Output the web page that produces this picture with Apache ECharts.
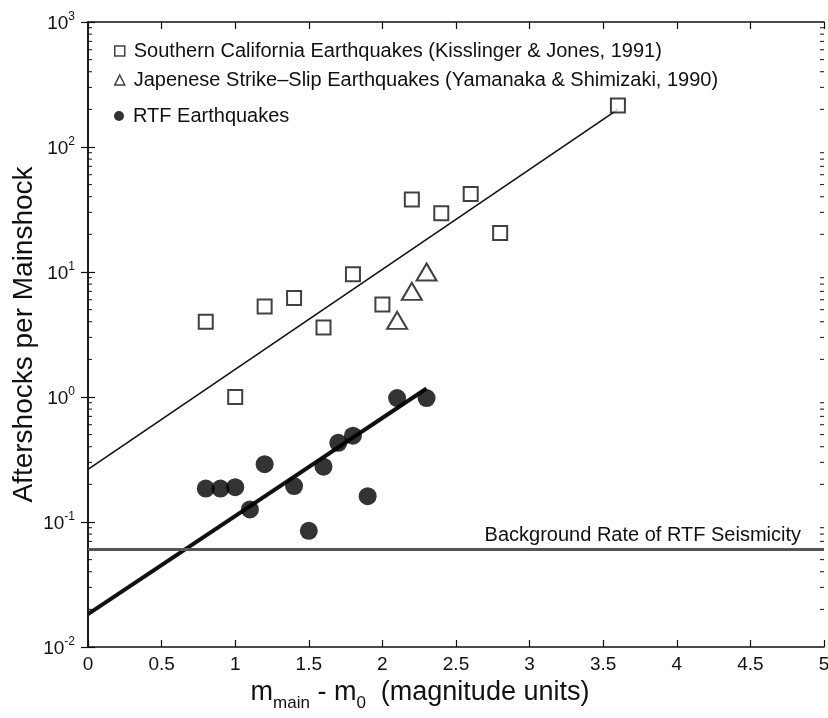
<!DOCTYPE html>
<html><head><meta charset="utf-8">
<script src="https://cdn.jsdelivr.net/npm/echarts@6/dist/echarts.min.js"></script>
<style>html,body{margin:0;padding:0;background:#fff}#c{width:828px;height:718px}</style>
</head><body><div id="c"></div>
<script>
// ---- data ----
const socalName = 'Southern California Earthquakes (Kisslinger & Jones, 1991)';
const japanName = 'Japenese Strike\u2013Slip Earthquakes (Yamanaka & Shimizaki, 1990)';
const rtfName = 'RTF Earthquakes';

const socalX = [0.8, 1.0, 1.2, 1.4, 1.6, 1.8, 2.0, 2.2, 2.4, 2.6, 2.8, 3.6];
const socalY = [4.0, 1.0, 5.3, 6.2, 3.6, 9.6, 5.5, 38, 29.5, 42, 20.5, 215];

const japanX = [2.1, 2.2, 2.3];
const japanY = [4.1, 7.0, 10];

const rtfX = [0.8, 0.9, 1.0, 1.1, 1.2, 1.4, 1.5, 1.6, 1.7, 1.8, 1.9, 2.1, 2.3];
const rtfY = [0.185, 0.185, 0.19, 0.126, 0.29, 0.194, 0.085, 0.277, 0.43, 0.49, 0.161, 0.98, 0.98];

const socalFitX = [0, 3.6];
const socalFitY = [0.264, 200];
const rtfFitX = [0, 2.3];
const rtfFitY = [0.0183, 1.17];

const backgroundRate = 0.063;
const backgroundLabel = 'Background Rate of RTF Seismicity';

const xTickLabels = ['0', '0.5', '1', '1.5', '2', '2.5', '3', '3.5', '4', '4.5', '5'];
const yDecades = [0.01, 0.1, 1, 10, 100];
const minorMultipliers = [2, 3, 4, 5, 6, 7, 8, 9];

// ---- chart ----
const FONT = 'Liberation Sans, Arial, Helvetica, sans-serif';
const INK = '#111';
const pairs = (xs, ys) => xs.map((x, i) => [x, ys[i]]);
const minorTicks = [];
yDecades.forEach(d => minorMultipliers.forEach(m => minorTicks.push([0, d * m])));

const chart = echarts.init(document.getElementById('c'), null, {renderer: 'canvas'});

const legendBase = {
  orient: 'horizontal', padding: 0, itemWidth: 10, itemHeight: 10, selectedMode: false,
  textStyle: {fontFamily: FONT, fontSize: 20, color: INK, padding: [0, 0, 0, 4]}
};

const option = {
  animation: false,
  backgroundColor: '#fff',
  textStyle: {fontFamily: FONT},
  grid: {left: 88, right: 4, top: 22, bottom: 71, containLabel: false, outerBoundsMode: 'none'},
  legend: [
    Object.assign({}, legendBase, {left: 114, top: 41, data: [socalName], icon: 'rect',
      itemStyle: {color: '#fff', borderColor: INK, borderWidth: 1.5}}),
    Object.assign({}, legendBase, {left: 114, top: 70, data: [japanName], icon: 'triangle',
      itemStyle: {color: '#fff', borderColor: INK, borderWidth: 1.5}}),
    Object.assign({}, legendBase, {left: 114, top: 106, data: [rtfName], icon: 'circle',
      itemStyle: {color: '#000', borderWidth: 0}})
  ],
  xAxis: [{
    type: 'value', min: 0, max: 5, interval: 0.5, position: 'bottom',
    axisLine: {show: true, lineStyle: {color: INK, width: 1.5}},
    axisTick: {show: true, inside: true, length: 7, lineStyle: {color: INK, width: 1.2}},
    splitLine: {show: false},
    axisLabel: {
      show: true, margin: 8, color: INK, fontSize: 19, fontFamily: FONT, hideOverlap: false,
      formatter: (v) => xTickLabels[Math.round(v * 2)]
    },
    name: '{m|m}{sub|main}{m| - m}{sub|0}{m|  (magnitude units)}',
    nameLocation: 'middle', nameGap: 30,
    nameTextStyle: {
      padding: [0, 72, 0, 0],
      rich: {
        m: {fontFamily: FONT, fontSize: 27, color: INK, lineHeight: 26, verticalAlign: 'top'},
        sub: {fontFamily: FONT, fontSize: 17, color: INK, lineHeight: 33, verticalAlign: 'bottom'}
      }
    }
  }, {
    type: 'value', min: 0, max: 5, interval: 0.5, position: 'top',
    axisLine: {show: true, lineStyle: {color: INK, width: 1.5}},
    axisTick: {show: true, inside: true, length: 7, lineStyle: {color: INK, width: 1.2}},
    axisLabel: {show: false}, splitLine: {show: false}
  }],
  yAxis: [{
    type: 'log', logBase: 10, min: 0.01, max: 1000, position: 'left',
    axisLine: {show: true, lineStyle: {color: INK, width: 1.5}},
    axisTick: {show: true, inside: true, length: 7, lineStyle: {color: INK, width: 1.2}},
    splitLine: {show: false},
    axisLabel: {
      show: true, margin: 13,
      formatter: (v) => '{b|10}{s|' + Math.round(Math.log10(v)) + '}',
      rich: {
        b: {fontFamily: FONT, fontSize: 19, color: INK, lineHeight: 23, verticalAlign: 'bottom'},
        s: {fontFamily: FONT, fontSize: 12, color: INK, lineHeight: 12, verticalAlign: 'top'}
      }
    },
    name: 'Aftershocks per Mainshock', nameLocation: 'middle', nameGap: 50, nameRotate: 90,
    nameMoveOverlap: false,
    nameTextStyle: {fontFamily: FONT, fontSize: 28, color: INK}
  }, {
    type: 'log', logBase: 10, min: 0.01, max: 1000, position: 'right',
    axisLine: {show: true, lineStyle: {color: INK, width: 1.5}},
    axisTick: {show: true, inside: true, length: 7, lineStyle: {color: INK, width: 1.2}},
    axisLabel: {show: false}, splitLine: {show: false}
  }],
  series: [
    {
      name: 'minorTicks', type: 'custom', silent: true, xAxisIndex: 0, yAxisIndex: 0,
      data: minorTicks, encode: {x: 0, y: 1}, clip: false,
      renderItem: function (params, api) {
        const v = api.value(1);
        const l = api.coord([0, v]);
        const r = api.coord([5, v]);
        return {type: 'group', children: [
          {type: 'line', shape: {x1: l[0], y1: l[1], x2: l[0] + 4, y2: l[1]}, style: {stroke: INK, lineWidth: 1}},
          {type: 'line', shape: {x1: r[0] - 4, y1: r[1], x2: r[0], y2: r[1]}, style: {stroke: INK, lineWidth: 1}}
        ]};
      }
    },
    {
      name: 'socalFit', type: 'line', data: pairs(socalFitX, socalFitY), symbol: 'none', silent: true,
      lineStyle: {color: INK, width: 1.6}, z: 2
    },
    {
      name: 'rtfFit', type: 'line', data: pairs(rtfFitX, rtfFitY), symbol: 'none', silent: true,
      lineStyle: {color: INK, width: 4}, z: 2
    },
    {
      name: socalName, type: 'scatter', data: pairs(socalX, socalY), symbol: 'rect', symbolSize: 14,
      itemStyle: {color: '#fff', borderColor: INK, borderWidth: 2}, z: 3
    },
    {
      name: japanName, type: 'scatter', data: pairs(japanX, japanY), symbol: 'triangle', symbolSize: [20, 17],
      itemStyle: {color: '#fff', borderColor: INK, borderWidth: 2}, z: 3
    },
    {
      name: rtfName, type: 'scatter', data: pairs(rtfX, rtfY), symbol: 'circle', symbolSize: 18,
      itemStyle: {color: '#000'}, z: 3,
      markLine: {
        silent: true, symbol: ['none', 'none'], animation: false,
        data: [{yAxis: backgroundRate}],
        lineStyle: {color: '#555', width: 3, type: 'solid'},
        label: {show: true, position: 'insideEndTop', formatter: backgroundLabel,
          fontFamily: FONT, fontSize: 20, color: INK, distance: [23, 4]}
      }
    }
  ]
};
chart.setOption(option);
</script>
</body></html>
